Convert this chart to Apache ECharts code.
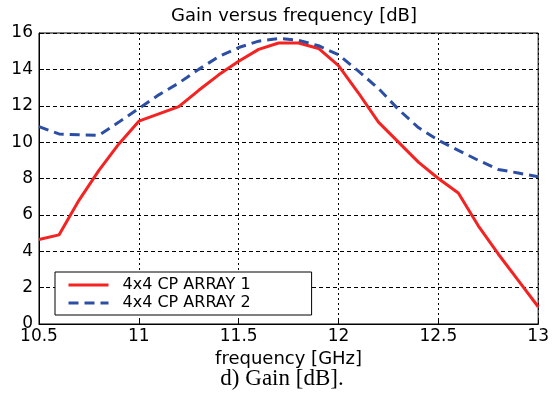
<!DOCTYPE html>
<html><head><meta charset="utf-8">
<script src="https://cdn.jsdelivr.net/npm/echarts@6/dist/echarts.min.js"></script>
<style>html,body{margin:0;padding:0;background:#fff}#c{width:552px;height:394px}</style>
</head><body><div id="c"></div>
<script>
const freqs = [10.5,10.6,10.7,10.8,10.9,11.0,11.1,11.2,11.3,11.4,11.5,11.6,11.7,11.8,11.9,12.0,12.1,12.2,12.3,12.4,12.5,12.6,12.7,12.8,12.9,13.0];
const array1 = [4.65,4.9,6.8,8.45,9.9,11.15,11.55,11.95,12.85,13.7,14.45,15.1,15.45,15.45,15.15,14.2,12.7,11.1,10.0,8.9,8.0,7.2,5.4,3.85,2.4,0.95];
const array2 = [10.85,10.45,10.4,10.38,11.1,11.85,12.6,13.25,14.0,14.7,15.2,15.55,15.7,15.6,15.3,14.8,13.9,12.95,11.8,10.8,10.1,9.55,9.0,8.5,8.3,8.1];
const seriesNames = ['4x4 CP ARRAY 1','4x4 CP ARRAY 2'];
const titleText = 'Gain versus frequency [dB]';
const xName = 'frequency [GHz]';
const caption = 'd) Gain [dB].';

const font = 'DejaVu Sans';
const chart = echarts.init(document.getElementById('c'), null, {renderer:'canvas'});
chart.setOption({
  animation:false,
  backgroundColor:'#fff',
  title:[
    {text:titleText,left:289,textAlign:'center',top:2,textStyle:{fontFamily:font,fontSize:18,fontWeight:'normal',color:'#000'}},
    {text:caption,left:277,textAlign:'center',top:362,textStyle:{fontFamily:'Liberation Serif',fontSize:23,fontWeight:'normal',color:'#000'}}
  ],
  grid:{left:39,right:12,top:33,bottom:70,show:true,borderColor:'#000',borderWidth:1,containLabel:false},
  legend:{
    show:true,left:55,top:272,orient:'vertical',itemGap:0,itemWidth:40,itemHeight:18,
    padding:[4,61,3,12],
    backgroundColor:'#fff',borderColor:'#000',borderWidth:1,borderRadius:0,
    itemStyle:{opacity:0},
    lineStyle:{width:3},
    textStyle:{fontFamily:font,fontSize:16,color:'#000',lineHeight:18,padding:[0,0,0,9]},
    data:seriesNames
  },
  xAxis:{type:'value',min:10.5,max:13,interval:0.5,
    name:xName,nameLocation:'middle',nameGap:21,nameTextStyle:{fontFamily:font,fontSize:18,color:'#000'},
    axisLine:{show:true,lineStyle:{color:'#000',width:1}},
    axisTick:{show:true,inside:true,length:5,lineStyle:{color:'#000'}},
    axisLabel:{fontFamily:font,fontSize:17,color:'#000',margin:4,
      formatter:v=>String(+v.toFixed(1))},
    splitLine:{show:true,lineStyle:{color:'#000',width:1,type:[2,3]}}},
  yAxis:{type:'value',min:0,max:16,interval:2,
    axisLine:{show:true,lineStyle:{color:'#000',width:1}},
    axisTick:{show:true,inside:true,length:5,lineStyle:{color:'#000'}},
    axisLabel:{fontFamily:font,fontSize:17,color:'#000',margin:6},
    splitLine:{show:true,lineStyle:{color:'#000',width:1,type:[4,3]}}},
  series:[
    {name:seriesNames[0],type:'line',showSymbol:false,symbol:'none',
      data:freqs.map((f,i)=>[f,array1[i]]),
      lineStyle:{color:'#f52222',width:3,type:'solid'},itemStyle:{color:'#f52222'}},
    {name:seriesNames[1],type:'line',showSymbol:false,symbol:'none',
      data:freqs.map((f,i)=>[f,array2[i]]),
      lineStyle:{color:'#2d4fa3',width:3,type:[10,6]},itemStyle:{color:'#2d4fa3'}}
  ]
});
</script></body></html>
